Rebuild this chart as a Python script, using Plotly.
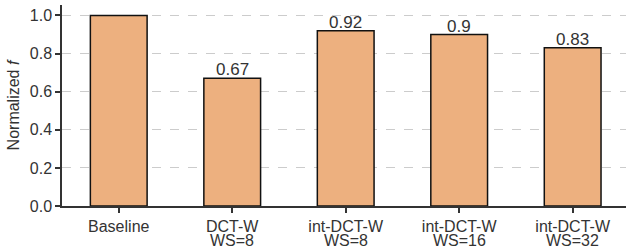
import plotly.graph_objects as go

method_names = ["Baseline", "DCT-W", "int-DCT-W", "int-DCT-W", "int-DCT-W"]
window_sizes = ["", "WS=8", "WS=8", "WS=16", "WS=32"]
values = [1.0, 0.67, 0.92, 0.90, 0.83]
bar_labels = ["", "0.67", "0.92", "0.9", "0.83"]
y_ticks = [0.0, 0.2, 0.4, 0.6, 0.8, 1.0]
y_tick_labels = ["0.0", "0.2", "0.4", "0.6", "0.8", "1.0"]

x_pos = list(range(len(method_names)))
text_color = "#333333"

fig = go.Figure()
fig.add_trace(go.Bar(
    x=x_pos, y=values, width=0.5,
    marker=dict(color="#EDB07F", line=dict(color="#111111", width=1.5)),
))

for xi, val, lab in zip(x_pos, values, bar_labels):
    if lab:
        fig.add_annotation(
            x=xi, y=val, xref="x", yref="y", text=lab, showarrow=False,
            yanchor="bottom", yshift=-3, font=dict(size=17, color=text_color),
        )

for xi, ws in zip(x_pos, window_sizes):
    if ws:
        fig.add_annotation(
            x=xi, xref="x", y=0, yref="paper", text=ws, showarrow=False,
            yanchor="middle", yshift=-34, font=dict(size=16, color=text_color),
        )

axis_color = "#333333"
fig.update_layout(
    width=626, height=249,
    margin=dict(l=62, r=0, t=5, b=43),
    plot_bgcolor="white", paper_bgcolor="white",
    font=dict(family="Liberation Sans, Arial, sans-serif", size=16, color=text_color),
    showlegend=False,
    xaxis=dict(
        tickmode="array", tickvals=x_pos, ticktext=method_names,
        range=[-0.5, 4.47], showline=True, linecolor=axis_color, linewidth=1.5,
        ticks="outside", ticklen=5, tickwidth=1.5, tickcolor=axis_color,
        showgrid=False, zeroline=False, tickfont=dict(size=16),
        automargin=False,
    ),
    yaxis=dict(
        tickmode="array", tickvals=y_ticks, ticktext=y_tick_labels,
        range=[0, 1.055], showline=True, linecolor=axis_color, linewidth=1.5,
        ticks="outside", ticklen=5, tickwidth=1.5, tickcolor=axis_color,
        showgrid=True, gridcolor="#cccccc", griddash="dash", gridwidth=1,
        zeroline=False, tickfont=dict(size=16),
        title=dict(text="Normalized <i>f</i>", font=dict(size=16), standoff=6),
        automargin=False,
    ),
)

fig.write_html(
    "out.html",
    config={"displayModeBar": False},
    post_script="document.body.style.margin='0';document.body.style.overflow='hidden';",
)
